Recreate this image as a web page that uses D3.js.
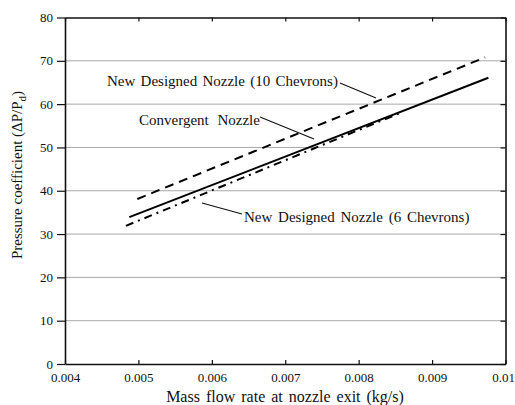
<!DOCTYPE html>
<html>
<head>
<meta charset="utf-8">
<script src="https://cdn.jsdelivr.net/npm/d3@7"></script>
<style>
body { margin: 0; background: #fff; }
svg text { font-family: "Liberation Serif", "Times New Roman", serif; fill: #111; }
</style>
</head>
<body>
<div id="chart"></div>
<script>
// line end points
var convergent = [[0.004876, 33.9], [0.009767, 66.1]];
var chevron10 = [[0.004985, 38.1], [0.009722, 70.8]];
var chevron6 = [[0.00483, 31.9], [0.0086, 58.2]];
var xTicks = [0.004, 0.005, 0.006, 0.007, 0.008, 0.009, 0.01];
var yTicks = [0, 10, 20, 30, 40, 50, 60, 70, 80];

var W = 515, H = 405;
var m = {left: 65, top: 17.5, right: 9.5, bottom: 41};

var svg = d3.select('#chart').append('svg')
	.attr('width', W)
	.attr('height', H)
	.attr('font-family', '"Liberation Serif", serif');

var x = d3.scaleLinear().domain([0.004, 0.01]).range([m.left, W - m.right]);
var y = d3.scaleLinear().domain([0, 80]).range([H - m.bottom, m.top]);

// grid
svg.append('g').selectAll('line')
	.data(yTicks.filter(function(d) { return d > 0 && d < 80; }))
	.enter().append('line')
	.attr('x1', x(0.004)).attr('x2', x(0.01))
	.attr('y1', function(d) { return y(d); })
	.attr('y2', function(d) { return y(d); })
	.attr('stroke', '#a8a8a8')
	.attr('stroke-width', 1);

// axes
var fmtX = function(d) { return d === 0.01 ? '0.01' : d3.format('.3f')(d); };
var gx = svg.append('g')
	.attr('transform', 'translate(0,' + y(0) + ')')
	.call(d3.axisBottom(x).tickValues(xTicks).tickSizeInner(-4).tickSizeOuter(0).tickPadding(9).tickFormat(fmtX));
// last label sits at the window edge, pull it in a bit
gx.selectAll('.tick text').filter(function(d) { return d === 0.01; })
	.attr('text-anchor', 'end').attr('x', 9);
svg.append('g')
	.attr('transform', 'translate(0,' + y(80) + ')')
	.call(d3.axisTop(x).tickValues(xTicks).tickSizeInner(-4).tickSizeOuter(0).tickFormat(''));
svg.append('g')
	.attr('transform', 'translate(' + x(0.004) + ',0)')
	.call(d3.axisLeft(y).tickValues(yTicks).tickSizeInner(8).tickSizeOuter(0).tickPadding(4));
svg.append('g')
	.attr('transform', 'translate(' + x(0.01) + ',0)')
	.call(d3.axisRight(y).tickValues(yTicks).tickSizeInner(-5).tickSizeOuter(0).tickFormat(''));

svg.selectAll('g').attr('font-family', null);
svg.selectAll('.domain').attr('stroke', '#111').attr('stroke-width', 1.6);
svg.selectAll('.tick line').attr('stroke', '#111').attr('stroke-width', 1.2);
svg.selectAll('.tick text')
	.style('font-size', '13px')
	.attr('fill', '#111');

// series
var line = d3.line()
	.x(function(d) { return x(d[0]); })
	.y(function(d) { return y(d[1]); });

svg.append('path').datum(convergent)
	.attr('d', line).attr('fill', 'none')
	.attr('stroke', '#000').attr('stroke-width', 2);
svg.append('path').datum(chevron10)
	.attr('d', line).attr('fill', 'none')
	.attr('stroke', '#000').attr('stroke-width', 2)
	.attr('stroke-dasharray', '9,6');
svg.append('path').datum(chevron6)
	.attr('d', line).attr('fill', 'none')
	.attr('stroke', '#000').attr('stroke-width', 2)
	.attr('stroke-dasharray', '8,5,2,5');

// annotations
var notes = [
	{t: 'New Designed Nozzle (10 Chevrons)', tx: 107, ty: 86, ws: 1.5, l: [[340, 83], [376, 98]]},
	{t: 'Convergent Nozzle', tx: 139, ty: 125, ws: 5, l: [[260, 117], [314, 139]]},
	{t: 'New Designed Nozzle (6 Chevrons)', tx: 244, ty: 222, ws: 2, l: [[202, 203], [242, 214]]}
];
notes.forEach(function(n) {
	svg.append('text')
		.attr('x', n.tx).attr('y', n.ty)
		.style('font-size', '15px')
		.style('word-spacing', n.ws + 'px')
		.text(n.t);
	svg.append('line')
		.attr('x1', n.l[0][0]).attr('y1', n.l[0][1])
		.attr('x2', n.l[1][0]).attr('y2', n.l[1][1])
		.attr('stroke', '#111').attr('stroke-width', 1.2);
});

// titles
svg.append('text')
	.attr('x', 285).attr('y', 402)
	.attr('text-anchor', 'middle')
	.style('font-size', '16px')
	.style('word-spacing', '2px')
	.text('Mass flow rate at nozzle exit (kg/s)');

var yt = svg.append('text')
	.attr('transform', 'translate(22,175) rotate(-90)')
	.attr('text-anchor', 'middle')
	.style('font-size', '15px');
yt.append('tspan').text('Pressure coefficient (\u0394P/P');
yt.append('tspan').attr('dy', 4).style('font-size', '11px').text('d');
yt.append('tspan').attr('dy', -4).text(')');
</script>
</body>
</html>
